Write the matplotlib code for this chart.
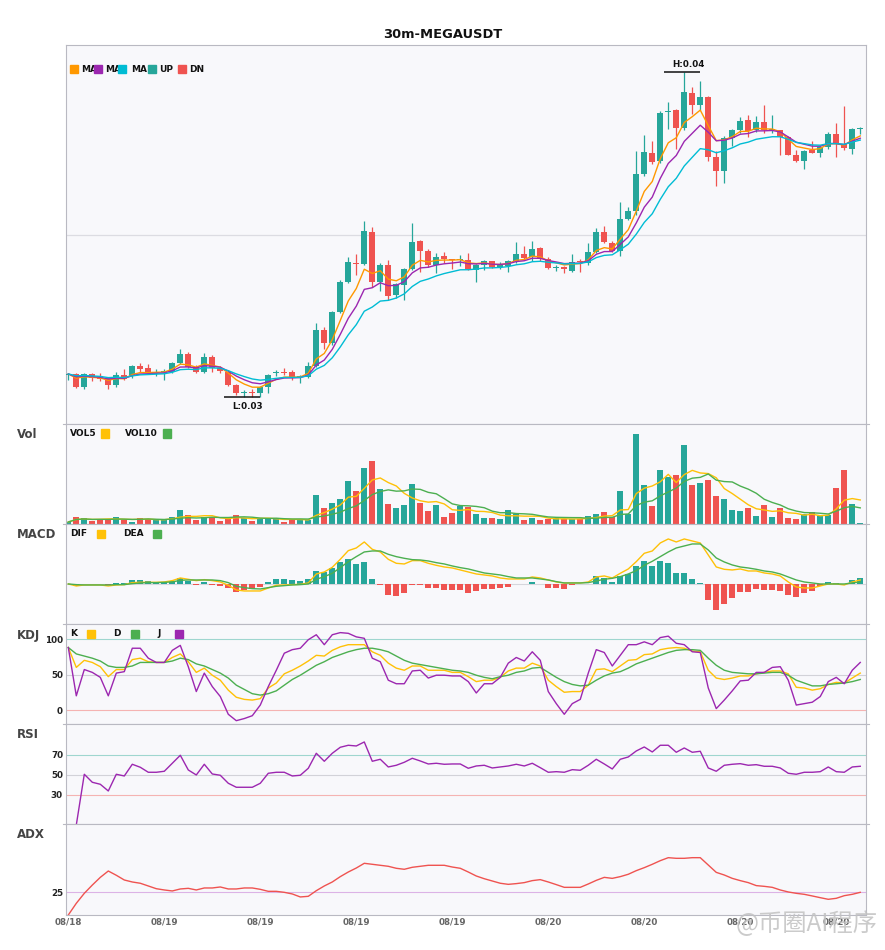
import numpy as np
import pandas as pd
import matplotlib
matplotlib.use("Agg")
import matplotlib.pyplot as plt
from matplotlib.patches import Rectangle
from matplotlib.lines import Line2D
from matplotlib.transforms import Bbox

# ---- data (30m candles, 100 bars) ----
# prices in units of 1e-5 USDT
open_e5 = [3070, 3071, 3034, 3071, 3066, 3059, 3039, 3069, 3066, 3096,
           3089, 3076, 3077, 3079, 3104, 3132, 3094, 3079, 3122, 3089,
           3079, 3039, 3014, 3016, 3016, 3032, 3076, 3079, 3079, 3062,
           3062, 3096, 3204, 3166, 3258, 3348, 3406, 3402, 3498, 3348,
           3398, 3308, 3339, 3387, 3471, 3442, 3399, 3426, 3416, 3414,
           3414, 3384, 3399, 3410, 3392, 3396, 3410, 3431, 3422, 3449,
           3418, 3390, 3394, 3382, 3409, 3404, 3437, 3498, 3464, 3440,
           3536, 3562, 3672, 3734, 3712, 3858, 3864, 3809, 3915, 3879,
           3903, 3724, 3682, 3781, 3804, 3834, 3803, 3828, 3804, 3803,
           3782, 3729, 3712, 3744, 3736, 3752, 3792, 3762, 3748, 3807]
high_e5 = [3076, 3074, 3076, 3076, 3076, 3061, 3078, 3086, 3098, 3106,
           3102, 3086, 3086, 3109, 3146, 3138, 3099, 3136, 3129, 3096,
           3084, 3042, 3024, 3026, 3036, 3072, 3084, 3089, 3084, 3069,
           3109, 3226, 3214, 3262, 3354, 3422, 3432, 3532, 3512, 3404,
           3414, 3344, 3389, 3526, 3474, 3446, 3434, 3438, 3418, 3428,
           3434, 3401, 3414, 3412, 3409, 3414, 3468, 3457, 3470, 3452,
           3422, 3399, 3396, 3431, 3416, 3466, 3509, 3516, 3472, 3588,
           3574, 3741, 3789, 3771, 3862, 3889, 3866, 3979, 3934, 3951,
           3906, 3742, 3785, 3807, 3844, 3850, 3846, 3878, 3848, 3805,
           3786, 3744, 3745, 3772, 3758, 3799, 3826, 3877, 3809, 3814]
low_e5 = [3054, 3031, 3028, 3052, 3052, 3028, 3034, 3054, 3059, 3079,
          3074, 3066, 3054, 3074, 3102, 3089, 3074, 3076, 3079, 3076,
          3036, 3009, 3002, 3004, 3004, 3014, 3066, 3069, 3054, 3046,
          3059, 3094, 3146, 3159, 3254, 3344, 3369, 3399, 3334, 3322,
          3294, 3299, 3294, 3384, 3379, 3394, 3374, 3404, 3386, 3396,
          3384, 3349, 3384, 3389, 3386, 3379, 3406, 3414, 3412, 3412,
          3386, 3382, 3376, 3378, 3379, 3399, 3434, 3464, 3438, 3426,
          3534, 3549, 3667, 3702, 3704, 3807, 3746, 3804, 3852, 3864,
          3712, 3637, 3644, 3756, 3794, 3782, 3798, 3796, 3796, 3729,
          3728, 3709, 3687, 3734, 3724, 3746, 3724, 3744, 3731, 3792]
close_e5 = [3072, 3034, 3072, 3059, 3056, 3039, 3069, 3056, 3096, 3088,
            3076, 3079, 3079, 3104, 3132, 3094, 3079, 3122, 3089, 3082,
            3039, 3014, 3016, 3014, 3032, 3069, 3079, 3076, 3062, 3064,
            3096, 3204, 3166, 3258, 3348, 3408, 3403, 3502, 3348, 3398,
            3306, 3342, 3387, 3468, 3442, 3399, 3422, 3416, 3413, 3418,
            3386, 3399, 3410, 3392, 3399, 3410, 3432, 3420, 3446, 3418,
            3389, 3393, 3386, 3407, 3407, 3437, 3498, 3468, 3440, 3536,
            3561, 3672, 3738, 3709, 3855, 3861, 3811, 3918, 3879, 3903,
            3724, 3682, 3779, 3803, 3831, 3801, 3828, 3803, 3806, 3783,
            3730, 3712, 3740, 3736, 3754, 3792, 3763, 3749, 3807, 3810]
volume = [7, 22, 19, 11, 16, 13, 22, 14, 8, 19,
          16, 13, 13, 22, 43, 28, 13, 23, 22, 11,
          16, 28, 18, 11, 16, 19, 19, 8, 13, 13,
          13, 88, 49, 64, 76, 130, 100, 169, 190, 106,
          61, 49, 58, 121, 64, 40, 58, 22, 34, 55,
          53, 31, 19, 19, 16, 43, 31, 13, 19, 13,
          17, 19, 15, 15, 15, 25, 31, 37, 22, 100,
          31, 271, 118, 55, 163, 142, 148, 238, 118, 124,
          133, 85, 76, 43, 40, 49, 25, 58, 22, 49,
          19, 16, 31, 37, 25, 28, 109, 163, 61, 4]
# MACD values in units of 1e-5
dif = [0, -6, -3, -3, -3, -6, -3, -2, 4, 5,
       5, 5, 6, 10, 18, 14, 10, 13, 10, 6,
       -4, -18, -21, -21, -21, -12, -4, -3, -2, -1,
       3, 30, 36, 50, 74, 100, 108, 126, 104, 96,
       74, 62, 60, 70, 70, 62, 56, 51, 48, 42,
       36, 30, 27, 24, 18, 15, 15, 15, 21, 18,
       12, 6, 3, 3, 3, 6, 21, 24, 18, 32,
       45, 67, 92, 99, 123, 135, 126, 135, 129, 123,
       87, 51, 44, 42, 45, 39, 39, 33, 30, 24,
       6, -9, -12, -12, -6, 0, 0, -3, 6, 12]
dea = [0, -2, -3, -3, -3, -3, -2, -2, 1, 3,
       4, 4, 5, 6, 11, 12, 12, 12, 12, 10,
       4, -7, -11, -14, -15, -11, -7, -5, -3, -2,
       0, 14, 22, 32, 49, 67, 82, 96, 99, 99,
       89, 82, 77, 73, 72, 69, 64, 60, 54, 49,
       45, 39, 33, 30, 27, 22, 18, 18, 18, 15,
       12, 7, 3, 3, 3, 4, 9, 14, 17, 22,
       30, 40, 56, 68, 82, 96, 108, 114, 120, 120,
       102, 78, 66, 57, 51, 48, 44, 39, 36, 30,
       21, 12, 6, 3, 0, 0, 0, 0, 3, 6]
macd_hist = [0, -5, 0, 0, 0, -3, 3, 3, 12, 12,
             9, 5, 5, 9, 17, 8, -3, 6, -3, -5,
             -13, -23, -18, -15, -8, 6, 15, 15, 12, 9,
             14, 39, 37, 48, 66, 75, 60, 66, 15, -3,
             -33, -36, -27, -2, -2, -13, -13, -17, -19, -19,
             -26, -22, -16, -16, -13, -8, 0, 0, 6, 0,
             -11, -11, -14, -4, 0, 0, 24, 18, 6, 24,
             30, 54, 69, 54, 69, 63, 33, 33, 15, 3,
             -48, -78, -60, -42, -24, -24, -15, -18, -18, -21,
             -33, -39, -27, -21, -6, 6, 3, 0, 12, 18]
k_val = [88, 60, 70, 67, 61, 47, 57, 57, 71, 73,
         68, 67, 67, 74, 79, 68, 53, 59, 49, 42,
         28, 18, 15, 14, 16, 31, 38, 51, 56, 62,
         69, 77, 76, 84, 89, 92, 92, 92, 82, 77,
         66, 59, 56, 62, 62, 56, 56, 56, 53, 53,
         47, 40, 42, 42, 46, 55, 59, 59, 66, 62,
         42, 33, 25, 26, 26, 35, 57, 58, 54, 62,
         70, 71, 78, 79, 85, 87, 88, 87, 83, 82,
         56, 45, 43, 45, 48, 48, 51, 53, 55, 55,
         51, 32, 31, 28, 30, 36, 39, 38, 45, 52]
d_val = [88, 79, 76, 73, 69, 62, 60, 60, 62, 67,
         67, 67, 67, 69, 73, 71, 65, 62, 57, 52,
         45, 35, 29, 23, 21, 23, 27, 35, 43, 49,
         56, 63, 68, 74, 78, 82, 85, 87, 87, 85,
         82, 76, 70, 66, 64, 62, 60, 58, 56, 55,
         53, 49, 46, 44, 47, 49, 53, 55, 59, 60,
         53, 46, 40, 36, 34, 35, 42, 48, 52, 54,
         59, 65, 69, 73, 77, 81, 84, 85, 85, 84,
         73, 63, 56, 53, 52, 51, 51, 52, 53, 53,
         49, 42, 38, 34, 34, 36, 37, 38, 40, 43]
j_val = [88, 20, 57, 53, 46, 20, 52, 54, 87, 87,
         73, 67, 67, 84, 91, 61, 26, 52, 33, 19,
         -6, -15, -12, -8, 7, 33, 56, 80, 85, 87,
         99, 106, 92, 106, 109, 108, 103, 101, 73, 68,
         42, 37, 37, 55, 56, 45, 49, 49, 48, 48,
         40, 24, 37, 37, 46, 66, 74, 69, 82, 70,
         26, 9, -6, 9, 15, 52, 85, 81, 62, 77,
         92, 92, 96, 92, 102, 104, 94, 92, 82, 81,
         31, 2, 14, 27, 41, 42, 53, 53, 60, 61,
         42, 7, 9, 11, 19, 40, 46, 37, 56, 67]
rsi = [np.nan, 0, 50.7, 42.7, 40.7, 34, 50.7, 49, 60.7, 57.7,
       52.7, 52.7, 53.7, 61.7, 69.7, 55, 50, 60.7, 51, 49.7,
       41.7, 37.7, 37.7, 37.7, 41.7, 51.7, 52.7, 52.7, 49, 49.7,
       56.7, 71.7, 63.7, 71.7, 77.7, 79.7, 79, 83, 63.7, 65.7,
       58, 59.7, 62.7, 66.7, 64, 61, 61.7, 60.7, 61, 61,
       56.7, 59, 59.7, 57, 58, 59, 60.7, 59, 61.7, 57.3,
       52.7, 53.3, 52.7, 55.3, 54.7, 59.7, 65.7, 61, 56, 65.7,
       68, 74, 78, 73, 79.7, 79.7, 72.7, 77, 72.7, 73.7,
       57, 53.7, 59.7, 60.7, 61.3, 59.7, 60.3, 58.7, 58.7, 57,
       51.7, 50.7, 52.7, 52.7, 53.3, 58, 53.3, 52.7, 58, 58.7]
adx = [0, 12.9, 23.9, 33, 41.5, 48.5, 43.8, 38.6, 36.4, 35,
       32, 29, 27.6, 26.5, 28.7, 29.4, 27.6, 29.8, 29.8, 30.9,
       28.7, 28.7, 29.8, 29.8, 28.3, 26.1, 26.1, 25, 23.2, 19.9,
       20.6, 26.8, 32, 36.4, 42.3, 47.4, 51.8, 57, 55.9, 54.8,
       53.7, 51.5, 50.4, 52.6, 53.7, 54.8, 54.8, 54.8, 52.9, 51.5,
       47.4, 43, 40, 37.5, 35, 33.8, 34.6, 35.7, 37.9, 39,
       36.4, 33.5, 30.5, 30.5, 30.5, 34.2, 38.2, 41.5, 40.4, 42.3,
       44.9, 48.9, 52.2, 55.9, 59.9, 63.2, 62.5, 62.5, 63.2, 63.2,
       55.1, 47, 44.1, 40.4, 37.9, 35.7, 32.4, 31.6, 30.5, 27.6,
       25.4, 23.9, 22.8, 21, 19.1, 17.3, 18.4, 21.3, 22.8, 25]
tick_pos = [0, 12, 24, 36, 48, 60, 72, 84, 96]
tick_labels = ["08/18", "08/19", "08/19", "08/19", "08/19",
               "08/20", "08/20", "08/20", "08/20"]
ma_spans = [5, 8, 13]
ma_names = ["MA5", "MA8", "MA13"]
ma_colors = ["#ff9800", "#9c27b0", "#00bcd4"]

UP, DN = "#26a69a", "#ef5350"
W, H = 885, 950
BG = "#f8f8fb"
SPINE = "#b9b9c2"
PANEL_EDGES = [45, 424.3, 524.3, 624.3, 724.3, 824.3, 915]


def fx(px):
    return px / W


def fy(py):
    return 1 - py / H


def make_axes(fig, top, bottom):
    ax = fig.add_axes([fx(65.5), fy(bottom), (865.7 - 65.5) / W, (bottom - top) / H])
    ax.set_facecolor(BG)
    for s in ax.spines.values():
        s.set_color(SPINE)
        s.set_linewidth(0.8)
    ax.set_xlim(-0.35, 99.68)
    ax.set_xticks([])
    ax.set_yticks([])
    return ax


def legend_text(fig, x, y, s, clip_right=None):
    t = fig.text(fx(x), fy(y), s, ha="left", va="center", fontsize=6.5,
                 fontweight="bold", color="#111", zorder=5)
    if clip_right is not None:
        # legend labels are cut off by the next marker, as in the original
        t.set_clip_box(Bbox([[x - 2, H - y - 10], [clip_right, H - y + 10]]))
        t.set_clip_on(True)


def legend_square(fig, x, y, color):
    fig.add_artist(Rectangle((fx(x), fy(y + 4)), 8 / W, 8 / H, color=color,
                             transform=fig.transFigure, zorder=6))


def set_ylabels(ax, ticks):
    ax.set_yticks(ticks)
    ax.set_yticklabels([str(t) for t in ticks], fontsize=6.3, fontweight="bold", color="#222")
    ax.tick_params(axis="y", length=0, pad=1.8)


def main():
    x = np.arange(len(close_e5))
    o = np.array(open_e5) * 1e-5
    h = np.array(high_e5) * 1e-5
    l = np.array(low_e5) * 1e-5
    c = np.array(close_e5) * 1e-5
    cols = [UP if c[i] >= o[i] else DN for i in range(len(x))]

    fig = plt.figure(figsize=(W / 100, H / 100), dpi=100)
    fig.text(0.5, fy(34), "30m-MEGAUSDT", ha="center", va="center",
             fontsize=9.4, fontweight="bold", color="#111")

    # main candle panel
    ax = make_axes(fig, 45, 424.3)
    ax.set_ylim(2921e-5, 4059e-5)
    ax.axhline(0.0349, color="#dcdce2", lw=0.9, zorder=0)
    ax.vlines(x, l, h, colors=cols, lw=0.9, zorder=2)
    body = np.maximum(np.abs(c - o), 2.5e-5)
    ax.bar(x, body, bottom=np.minimum(o, c), width=0.74, color=cols, linewidth=0, zorder=3)
    cs = pd.Series(c)
    for span, col in zip(ma_spans, ma_colors):
        ax.plot(x, cs.ewm(span=span, adjust=False).mean(), color=col, lw=1.0, zorder=4)

    ih, il = int(np.argmax(h)), int(np.argmin(l))
    ax.hlines(h[ih], ih - 2.5, ih + 2.0, color="#111", lw=1.1, zorder=5)
    ax.annotate(f"H:{h[ih]:.2f}", (ih, h[ih]), xytext=(4, 7), textcoords="offset pixels",
                ha="center", va="center", fontsize=6.3, fontweight="bold", color="#111")
    ax.hlines(l[il], il - 2.5, il + 2.0, color="#111", lw=1.1, zorder=5)
    ax.annotate(f"L:{l[il]:.2f}", (il, l[il]), xytext=(3, -9.5), textcoords="offset pixels",
                ha="center", va="center", fontsize=6.3, fontweight="bold", color="#111")

    sq_x = [70, 94, 118, 148, 178]
    for k, (tx, s) in enumerate(zip([81, 105, 131], ma_names)):
        legend_text(fig, tx, 69, s, clip_right=sq_x[k + 1])
    legend_text(fig, 159, 69, "UP")
    legend_text(fig, 189, 69, "DN")
    for sx, col in zip(sq_x, ma_colors + [UP, DN]):
        legend_square(fig, sx, 69, col)

    # volume
    av = make_axes(fig, 424.3, 524.3)
    av.set_ylim(0, 300)
    vs = pd.Series(volume, dtype=float)
    av.bar(x, volume, width=0.72, color=cols, linewidth=0)
    av.plot(x, vs.rolling(5, min_periods=1).mean(), color="#ffc107", lw=1.0)
    av.plot(x, vs.rolling(10, min_periods=1).mean(), color="#4caf50", lw=1.0)
    legend_text(fig, 70, 433.5, "VOL5")
    legend_square(fig, 101, 433.5, "#ffc107")
    legend_text(fig, 125, 433.5, "VOL10")
    legend_square(fig, 163, 433.5, "#4caf50")

    # MACD
    am = make_axes(fig, 524.3, 624.3)
    am.set_ylim(-121, 179)
    am.axhline(0, color="#d6d6dc", lw=0.8, zorder=0)
    hcols = [UP if v >= 0 else DN for v in macd_hist]
    am.bar(x, macd_hist, width=0.72, color=hcols, linewidth=0)
    am.plot(x, dif, color="#ffc107", lw=1.0)
    am.plot(x, dea, color="#4caf50", lw=1.0)
    legend_text(fig, 70, 534, "DIF")
    legend_square(fig, 97, 534, "#ffc107")
    legend_text(fig, 123, 534, "DEA")
    legend_square(fig, 153, 534, "#4caf50")

    # KDJ
    ak = make_axes(fig, 624.3, 724.3)
    ak.set_ylim(-20.1, 120.7)
    ak.axhline(100, color="#9fd6cf", lw=0.8, zorder=0)
    ak.axhline(50, color="#d2d2d8", lw=0.8, zorder=0)
    ak.axhline(0, color="#f5b3b2", lw=0.8, zorder=0)
    ak.plot(x, k_val, color="#ffc107", lw=1.0)
    ak.plot(x, d_val, color="#4caf50", lw=1.0)
    ak.plot(x, j_val, color="#9c27b0", lw=1.0)
    set_ylabels(ak, [0, 50, 100])
    legend_text(fig, 70, 633.7, "K")
    legend_square(fig, 87, 633.7, "#ffc107")
    legend_text(fig, 113, 633.7, "D")
    legend_square(fig, 131, 633.7, "#4caf50")
    legend_text(fig, 157, 633.7, "J")
    legend_square(fig, 175, 633.7, "#9c27b0")

    # RSI
    ar = make_axes(fig, 724.3, 824.3)
    ar.set_ylim(0.67, 100.67)
    ar.axhline(70, color="#9fd6cf", lw=0.8, zorder=0)
    ar.axhline(50, color="#d2d2d8", lw=0.8, zorder=0)
    ar.axhline(30, color="#f5b3b2", lw=0.8, zorder=0)
    ar.plot(x, rsi, color="#9c27b0", lw=1.0)
    set_ylabels(ar, [30, 50, 70])

    # ADX
    aa = make_axes(fig, 824.3, 915)
    aa.set_ylim(0, 100)
    aa.axhline(25, color="#dcb3e6", lw=0.8, zorder=0)
    aa.plot(x, adx, color="#ef5350", lw=1.0)
    set_ylabels(aa, [25])
    aa.set_xticks(tick_pos)
    aa.set_xticklabels(tick_labels, fontsize=6.3, fontweight="bold", color="#666")
    aa.tick_params(axis="x", length=0, pad=2)

    # little edge ticks where panels meet
    for py in PANEL_EDGES[1:-1]:
        for x0, x1 in [(62.5, 65.5), (865.7, 868.7)]:
            fig.add_artist(Line2D([fx(x0), fx(x1)], [fy(py), fy(py)], color=SPINE,
                                  lw=0.8, transform=fig.transFigure))

    for name, py in [("Vol", 434), ("MACD", 535), ("KDJ", 635), ("RSI", 735), ("ADX", 835)]:
        fig.text(fx(17), fy(py), name, ha="left", va="center", fontsize=8.5,
                 fontweight="bold", color="#444")

    fig.text(fx(878), fy(924), "@币圈AI程序", ha="right", va="center", fontsize=17.5,
             color="#c2c2c2", alpha=0.85, family=["Noto Sans CJK SC", "DejaVu Sans"], zorder=7)

    fig.savefig("out.png", dpi=100, facecolor="white")
    plt.close(fig)


if __name__ == "__main__":
    main()
